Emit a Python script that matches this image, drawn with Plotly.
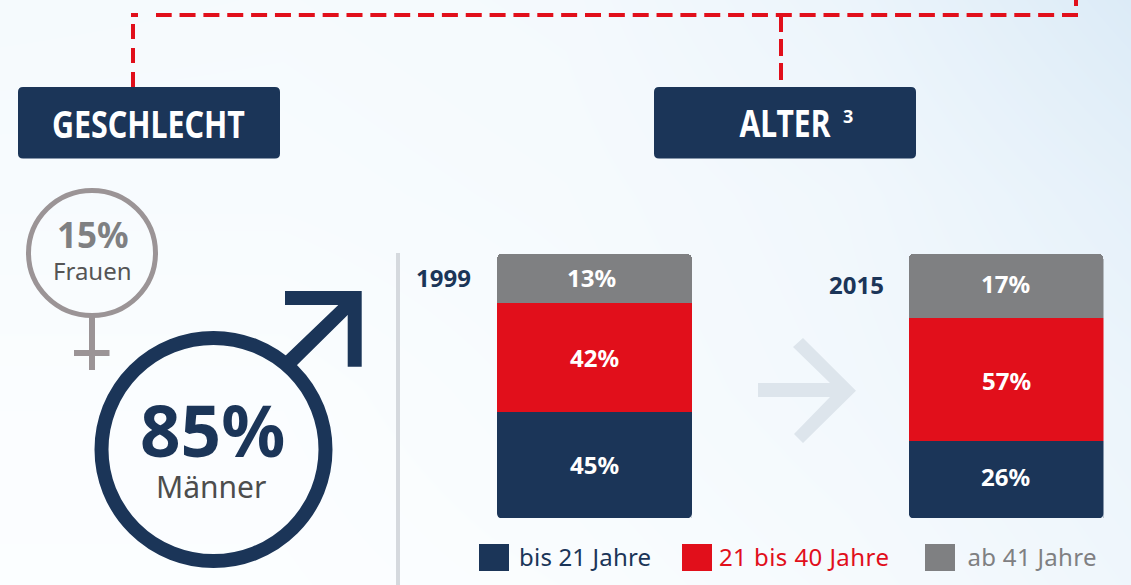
import json
import plotly.graph_objects as go

# ---- data ----
years = ["1999", "2015"]
age_groups = ["bis 21 Jahre", "21 bis 40 Jahre", "ab 41 Jahre"]
# printed labels
labels_young = ["45%", "26%"]
labels_mid = ["42%", "57%"]
labels_old = ["13%", "17%"]
# segment heights as drawn in the picture (the source is not to scale with its labels)
drawn_young = [40.1, 29.1]
drawn_mid = [41.1, 46.5]
drawn_old = [18.8, 24.4]
gender_women = "15%"
gender_men = "85%"

bg_x = [0, 283, 566, 848, 1131]
bg_y = [0, 195, 390, 585]
bg_tint = [
    [0.22, 0.20, 0.25, 0.50, 1.00],
    [0.15, 0.15, 0.20, 0.35, 0.70],
    [0.05, 0.05, 0.15, 0.30, 0.50],
    [0.02, 0.02, 0.08, 0.20, 0.40],
]

NAVY = "#1b3558"
RED = "#e10f1b"
GREY = "#7f8082"
VENUS = "#9b9496"
W, H = 1131, 585
BODY = "Noto Sans"

fig = go.Figure()
fig.add_trace(go.Heatmap(x=bg_x, y=bg_y, z=bg_tint, zmin=0, zmax=1, zsmooth="best", showscale=False,
                         hoverinfo="skip", colorscale=[[0, "#fcfeff"], [1, "#dcebf7"]],
                         xaxis="x", yaxis="y"))

for vals, col, name in [(drawn_young, NAVY, age_groups[0]),
                        (drawn_mid, RED, age_groups[1]),
                        (drawn_old, GREY, age_groups[2])]:
    fig.add_trace(go.Bar(x=years, y=vals, name=name, marker=dict(color=col, line=dict(width=0)),
                         width=0.473, xaxis="x2", yaxis="y2", showlegend=False))


def rrect(x0, y0, x1, y1, r):
    return (f"M{x0+r},{y0} L{x1-r},{y0} Q{x1},{y0} {x1},{y0+r} L{x1},{y1-r} Q{x1},{y1} {x1-r},{y1} "
            f"L{x0+r},{y1} Q{x0},{y1} {x0},{y1-r} L{x0},{y0+r} Q{x0},{y0} {x0+r},{y0} Z")


def poly(pts):
    return "M" + " L".join(f"{a},{b}" for a, b in pts) + " Z"


shapes = []


def line(x0, y0, x1, y1, color, width, dash="solid"):
    shapes.append(dict(type="line", xref="x", yref="y", x0=x0, y0=y0, x1=x1, y1=y1,
                       line=dict(color=color, width=width, dash=dash)))


def fill(path, color):
    shapes.append(dict(type="path", xref="x", yref="y", path=path, fillcolor=color, line=dict(width=0)))


DASH = "16px,7.85px"
line(1078, 15, 156, 15, RED, 4, DASH)
line(131, 15, 138, 15, RED, 4)
line(133, 87, 133, 24, RED, 4, "15px,9px")
line(781, 15, 781, 87, RED, 4, "17px,7px")
line(1076, 0, 1076, 6, RED, 4)

fill(rrect(18, 87, 280, 158.5, 5), NAVY)
fill(rrect(654, 87, 916, 158.5, 5), NAVY)

# rounded feet of the stacked bars (the library only rounds the top of a stack)
R = 5
for x0, x1, tint in [(497, 691.8, "#f8fbfe"), (908.8, 1103.5, "#f1f7fc")]:
    fill(f"M{x0},518.3 L{x0+R},518.3 Q{x0},518.3 {x0},{518.3-R} Z", tint)
    fill(f"M{x1},518.3 L{x1-R},518.3 Q{x1},518.3 {x1},{518.3-R} Z", tint)

# venus symbol
shapes.append(dict(type="circle", xref="x", yref="y", x0=28.5, y0=190.5, x1=155.5, y1=315.5,
                   line=dict(color=VENUS, width=5)))
line(92, 317, 92, 370, VENUS, 6)
line(74, 353, 109.5, 353, VENUS, 6)

# mars symbol
shapes.append(dict(type="circle", xref="x", yref="y", x0=101.5, y0=338, x1=325.5, y1=561,
                   line=dict(color=NAVY, width=14)))
fill(poly([(285, 291), (361.7, 291), (361.7, 366.7), (347.7, 366.7), (347.7, 315), (294, 368),
           (283, 358), (338.3, 305), (285, 305)]), NAVY)

# separator
line(398, 253, 398, 585, "#d5d9de", 4)

# pale arrow
fill(poly([(758, 383), (830, 383), (793, 347), (803, 338), (856, 390.7), (803, 443), (794, 434),
           (830, 397), (758, 397)]), "#dde5ec")

# legend swatches
for x0, c in [(479, NAVY), (682, RED), (925, GREY)]:
    shapes.append(dict(type="rect", xref="x", yref="y", x0=x0, x1=x0 + 30, y0=544, y1=571,
                       fillcolor=c, line=dict(width=0)))

ann = []


def text(x, y, s, size, color, bold=False, anchor="center"):
    ann.append(dict(x=x, y=y, xref="x", yref="y", text=s, showarrow=False,
                    xanchor=anchor, yanchor="middle",
                    font=dict(family=BODY, size=size, color=color, weight=700 if bold else 400)))


text(148.5, 123, "GESCHLECHT", 37, "white", True)
text(785, 122, "ALTER", 37, "white", True)
text(847.5, 116, "3", 18, "white", True)
text(92.5, 234, gender_women, 35, GREY, True)
text(92, 270, "Frauen", 24, "#555555")
text(212.5, 429, gender_men, 71, NAVY, True)
text(211, 486, "Männer", 30, "#4d4d4d")
text(443.5, 277, years[0], 24, NAVY, True)
text(856, 284, years[1], 24, NAVY, True)
text(518, 556, age_groups[0], 24, NAVY, anchor="left")
text(720, 556, age_groups[1], 24, RED, anchor="left")
text(967, 556, age_groups[2], 24, GREY, anchor="left")

# percentage labels inside the bars
text(591, 277, labels_old[0], 24, "white", True)
text(594, 357, labels_mid[0], 24, "white", True)
text(594, 464, labels_young[0], 24, "white", True)
text(1005, 283, labels_old[1], 24, "white", True)
text(1006, 380, labels_mid[1], 24, "white", True)
text(1005, 476, labels_young[1], 24, "white", True)

hidden = dict(visible=False, showgrid=False, zeroline=False, fixedrange=True)
fig.update_layout(
    width=W, height=H, margin=dict(l=0, r=0, t=0, b=0), autosize=False,
    paper_bgcolor="white", plot_bgcolor="rgba(0,0,0,0)",
    barmode="stack", barcornerradius=5, showlegend=False,
    xaxis=dict(domain=[0, 1], range=[0, W], **hidden),
    yaxis=dict(domain=[0, 1], range=[H, 0], **hidden),
    xaxis2=dict(domain=[497 / W, 1103.5 / W], range=[-0.2365, 1.2365], type="category", anchor="y2", **hidden),
    yaxis2=dict(domain=[1 - 518 / H, 1 - 253.7 / H], range=[0, 100], anchor="x2", **hidden),
    shapes=shapes, annotations=ann,
)

# the reference face is condensed: fit these texts to the widths they have there
fit_widths = {"GESCHLECHT": [193, "spacingAndGlyphs"], "ALTER": [91, "spacingAndGlyphs"],
              age_groups[0]: [132, "spacing"], age_groups[1]: [170, "spacing"], age_groups[2]: [129, "spacing"]}
post = """
document.body.style.margin='0';document.body.style.overflow='hidden';
var fitW=%s;
function fitTexts(){document.querySelectorAll('text.annotation-text').forEach(function(t){
  var f=fitW[t.textContent];
  if(f){t.setAttribute('textLength',f[0]);t.setAttribute('lengthAdjust',f[1]);}
});}
fitTexts();setTimeout(fitTexts,50);setTimeout(fitTexts,300);
""" % json.dumps(fit_widths)
fig.write_html("out.html", post_script=post, config={"displayModeBar": False, "staticPlot": True})
